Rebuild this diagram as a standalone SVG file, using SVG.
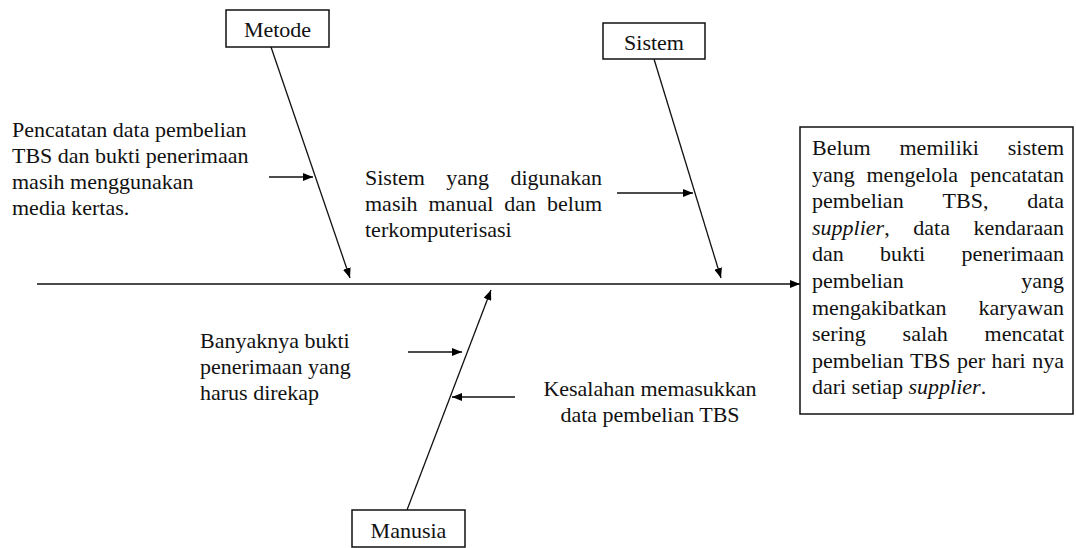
<svg xmlns="http://www.w3.org/2000/svg" width="1076" height="548" viewBox="0 0 1076 548">
<defs>
<marker id="ah" markerWidth="10" markerHeight="8" refX="10" refY="4" orient="auto" markerUnits="userSpaceOnUse">
<path d="M0,0 L10,4 L0,8 z" fill="#000"/>
</marker>
<style>
text{font-family:"Liberation Serif","Times New Roman",serif;font-size:22px;fill:#111}
.box{fill:#fff;stroke:#111;stroke-width:1.5}
.ln{stroke:#111;stroke-width:1.3;fill:none}
.ar{stroke:#111;stroke-width:1.3;fill:none;marker-end:url(#ah)}
.c{text-anchor:middle}
.i{font-style:italic}
</style>
</defs>
<rect width="1076" height="548" fill="#fff"/>
<g id="connectors">
<path class="ar" d="M37,284 H800"/>
<path class="ar" d="M271,47 L350,278"/>
<path class="ar" d="M654,59 L721,278"/>
<path class="ar" d="M407,510 L491,290"/>
<path class="ar" d="M269,177 H313"/>
<path class="ar" d="M617,193 H693"/>
<path class="ar" d="M408,352 H462"/>
<path class="ar" d="M515,397 H452"/>
</g>
<g id="metode">
<rect class="box" x="226" y="10" width="103" height="37"/>
<text class="c" x="277.5" y="37">Metode</text>
</g>
<g id="sistem">
<rect class="box" x="603" y="23" width="102" height="36"/>
<text class="c" x="654" y="50">Sistem</text>
</g>
<g id="manusia">
<rect class="box" x="352" y="510" width="113" height="37"/>
<text class="c" x="408.5" y="538">Manusia</text>
</g>
<g id="cause-metode">
<text x="12" y="137">Pencatatan data pembelian</text>
<text x="12" y="163">TBS dan bukti penerimaan</text>
<text x="12" y="189">masih menggunakan</text>
<text x="12" y="215">media kertas.</text>
</g>
<g id="cause-sistem">
<text y="185"><tspan x="365">Sistem</tspan><tspan x="446.3">yang</tspan><tspan x="510.4">digunakan</tspan></text>
<text y="211"><tspan x="365">masih</tspan><tspan x="428.5">manual</tspan><tspan x="504.3">dan</tspan><tspan x="547">belum</tspan></text>
<text x="365" y="237">terkomputerisasi</text>
</g>
<g id="cause-manusia-1">
<text x="200" y="348">Banyaknya bukti</text>
<text x="200" y="374">penerimaan yang</text>
<text x="200" y="400">harus direkap</text>
</g>
<g id="cause-manusia-2">
<text class="c" x="650" y="396">Kesalahan memasukkan</text>
<text class="c" x="650" y="422">data pembelian TBS</text>
</g>
<g id="effect">
<rect class="box" x="800" y="127" width="273" height="287"/>
<text y="155"><tspan x="812">Belum</tspan><tspan x="899.5">memiliki</tspan><tspan x="1007.8">sistem</tspan></text>
<text y="181.6"><tspan x="812">yang</tspan><tspan x="866.5">mengelola</tspan><tspan x="969.9">pencatatan</tspan></text>
<text y="208.2"><tspan x="812">pembelian</tspan><tspan x="942.6">TBS,</tspan><tspan x="1027.3">data</tspan></text>
<text y="234.8"><tspan x="812" class="i">supplier</tspan><tspan>,</tspan><tspan x="913.3">data</tspan><tspan x="973.6">kendaraan</tspan></text>
<text y="261.4"><tspan x="812">dan</tspan><tspan x="880">bukti</tspan><tspan x="961.4">penerimaan</tspan></text>
<text y="288"><tspan x="812">pembelian</tspan><tspan x="1021.2">yang</tspan></text>
<text y="314.6"><tspan x="812">mengakibatkan</tspan><tspan x="978.5">karyawan</tspan></text>
<text y="341.2"><tspan x="812">sering</tspan><tspan x="902.6">salah</tspan><tspan x="984.6">mencatat</tspan></text>
<text y="367.8"><tspan x="812">pembelian</tspan><tspan x="910.1">TBS</tspan><tspan x="957">per</tspan><tspan x="991.5">hari</tspan><tspan x="1032.2">nya</tspan></text>
<text x="812" y="394.4">dari setiap <tspan class="i">supplier</tspan>.</text>
</g>
</svg>
